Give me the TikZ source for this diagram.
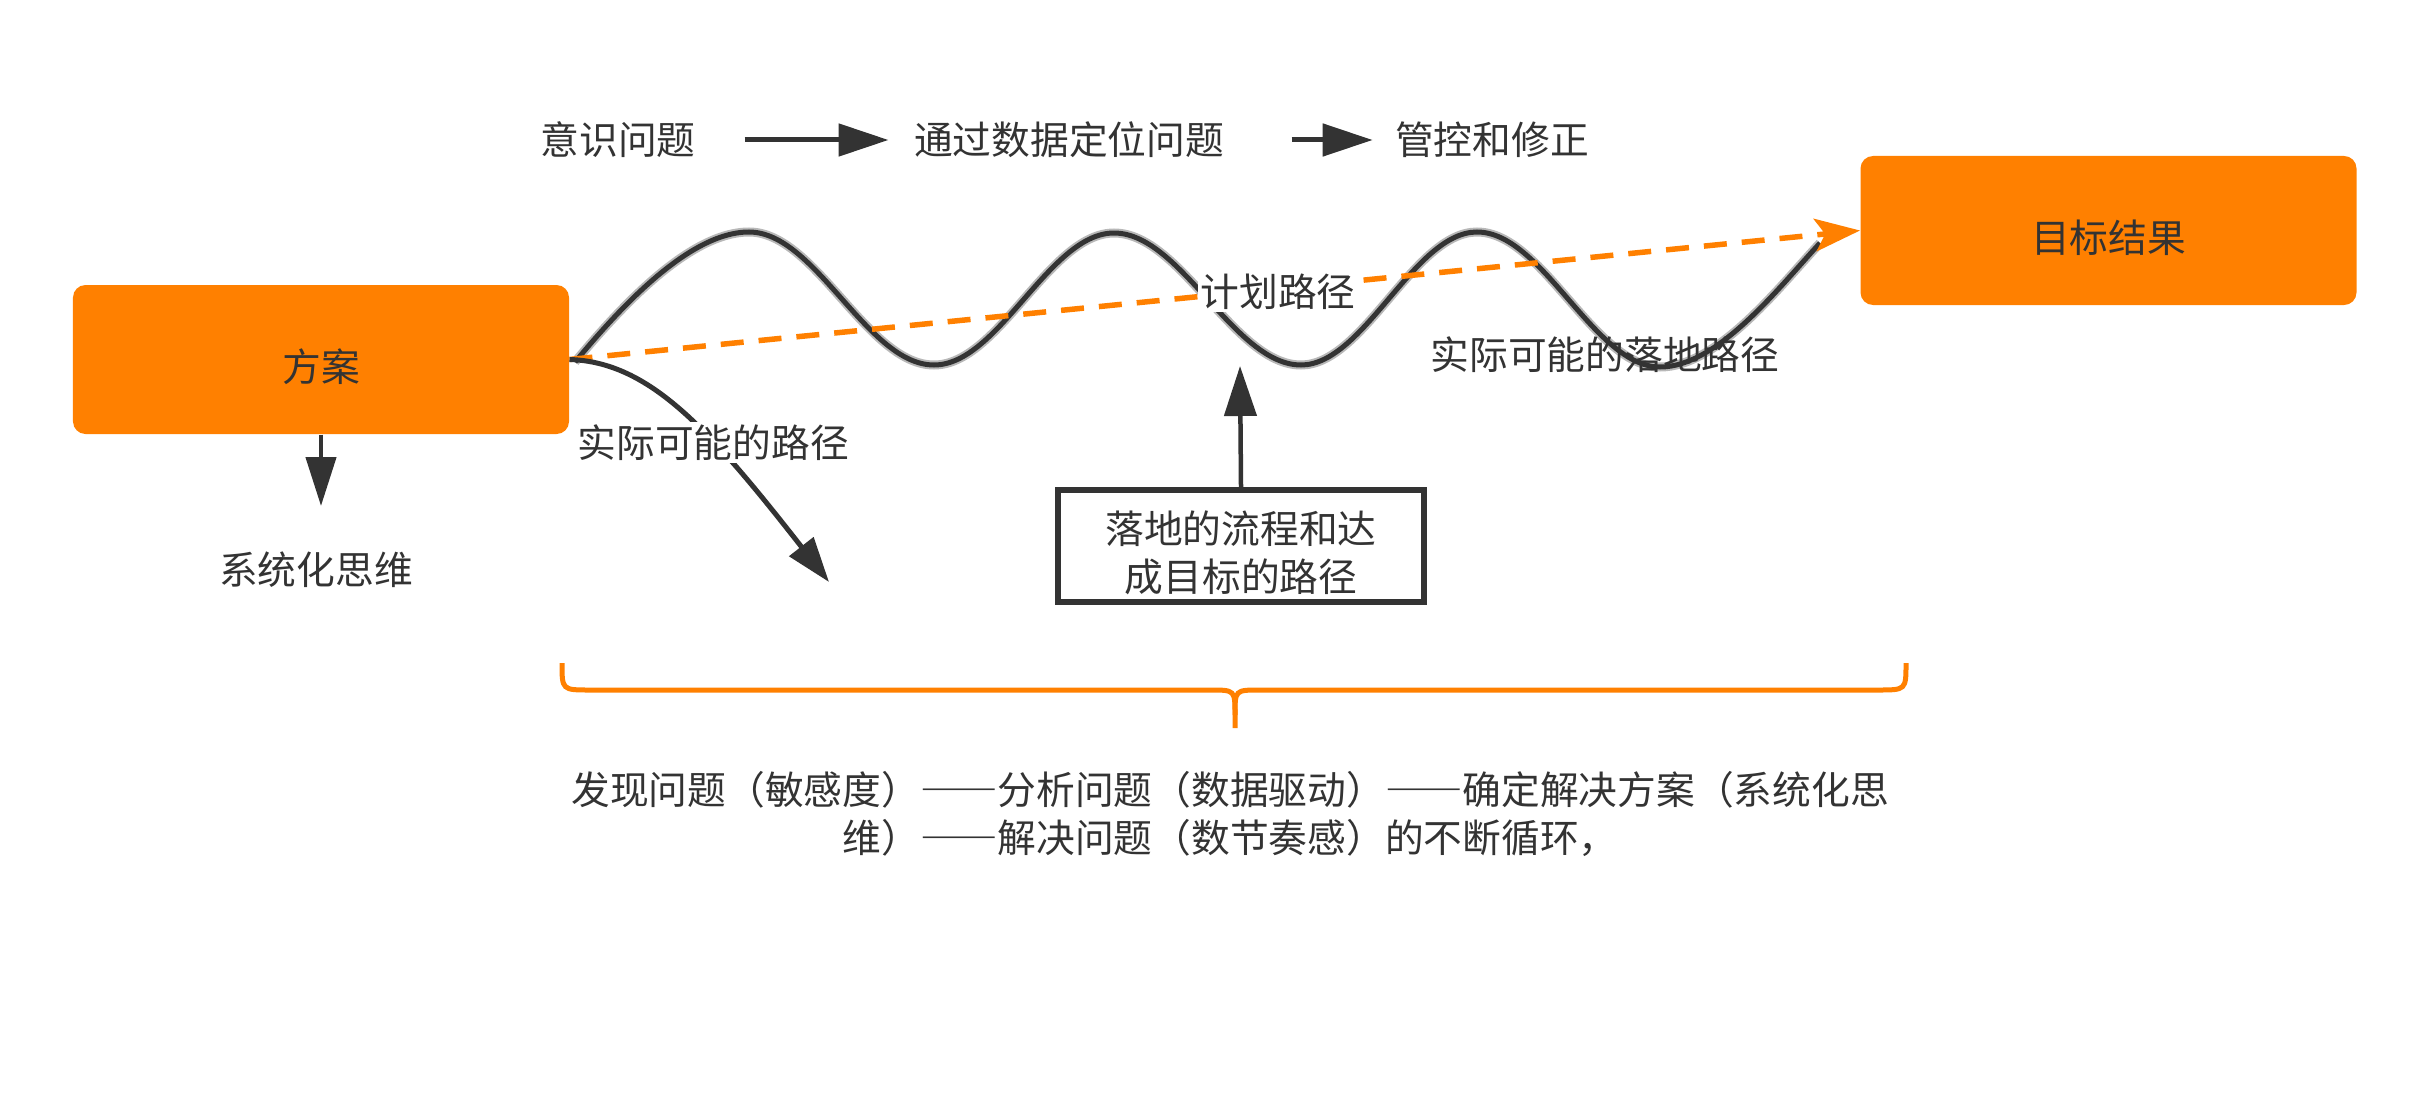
\documentclass[tikz,border=0pt]{standalone}
\usepackage{fontspec}
\setmainfont{Noto Sans CJK SC}
\usetikzlibrary{arrows.meta}
\definecolor{ink}{HTML}{333333}
\definecolor{plan}{HTML}{FF8000}
\newcommand\longdash{{\addfontfeature{CharacterWidth=Full}——}}
\tikzset{
  txt/.style={inner sep=1pt, text=ink, font=\fontsize{15.5pt}{19.2pt}\selectfont},
  stagebox/.style={txt, rounded corners=5pt, fill=plan, minimum width=198.4pt, minimum height=59.6pt,
    text height=18.5pt, text depth=1.1pt},
  arr/.style={draw=ink, line width=2pt, -{Triangle[length=20pt,width=12.8pt]}},
  brace/.style={draw=plan, line width=2pt},
}
\begin{document}
\begin{tikzpicture}[x=0.4pt,y=-0.4pt]
\useasboundingbox (0,0) rectangle (2430,1119);

\node[stagebox] (fangan) at (321,359.5) {方案};
\node[stagebox] (mubiao) at (2108.5,230.5) {目标结果};

\node[txt] (yishi) at (618,140) {意识问题};
\node[txt] (tongguo) at (1069,140) {通过数据定位问题};
\node[txt] (guankong) at (1492,140) {管控和修正};
\draw[arr, shorten <=18.4pt, shorten >=9pt] (yishi.east) -- (tongguo.west);
\draw[arr, shorten <=25.8pt, shorten >=7.8pt] (tongguo.east) -- (guankong.west);

\foreach \w/\c in {3.6pt/ink!35, 2pt/ink}{
  \draw[line width=\w, draw=\c] (575,362) .. controls (615,314) and (687,232) .. (749,232)
    .. controls (816,232) and (867,365) .. (934,365)
    .. controls (999,365) and (1049,233) .. (1114,233)
    .. controls (1181,233) and (1234,365) .. (1301,365)
    .. controls (1364,365) and (1414,232) .. (1477,232)
    .. controls (1543,232) and (1594,367) .. (1660,367)
    .. controls (1718,367) and (1780,286) .. (1820,243);
}

\draw[plan, line width=2.2pt, dash pattern=on 9.2pt off 6pt,
  -{Stealth[length=18pt,width=13pt,inset=4pt]}] (fangan.east) -- (mubiao.west);

\coordinate (shijiend) at (829,582);
\draw[arr, -{Triangle[length=18pt,width=12pt]}] (fangan.east) .. controls (650,362) and (710,430) .. (shijiend)
  node[txt, pos=0.615, fill=white] (shiji) {实际可能的路径};

\coordinate (xitongend) at (321,506);
\node[txt] (xitong) at (316,570) {系统化思维};
\draw[arr, line width=1.8pt, -{Triangle[length=19.6pt,width=12pt]}] (fangan.south) -- (xitongend);

\node[txt, fill=white] (jihua) at (1278,292) {计划路径};
\node[txt] (luodilu) at (1605,355) {实际可能的落地路径};

\node[txt, draw=ink, line width=2.4pt, minimum width=146.4pt, minimum height=44.8pt, align=center] (luodi) at (1241,546) {\rule{0pt}{18.5pt}落地的流程和达\\成目标的路径};
\coordinate (jihuatip) at (1240,366);
\draw[arr, line width=1.8pt] (luodi.north) -- (jihuatip);

\draw[brace] (562,663) .. controls (562,690) .. (590,690) -- (1210,690) .. controls (1235,690) .. (1235,715) -- (1235,728);
\draw[brace] (1906,663) .. controls (1906,690) .. (1878,690) -- (1260,690) .. controls (1235,690) .. (1235,715);

\node[txt, align=center] (xunhuan) at (1230,814) {发现问题（敏感度）\longdash 分析问题（数据驱动）\longdash 确定解决方案（系统化思\\维）\longdash 解决问题（数节奏感）的不断循环，};
\end{tikzpicture}
\end{document}
